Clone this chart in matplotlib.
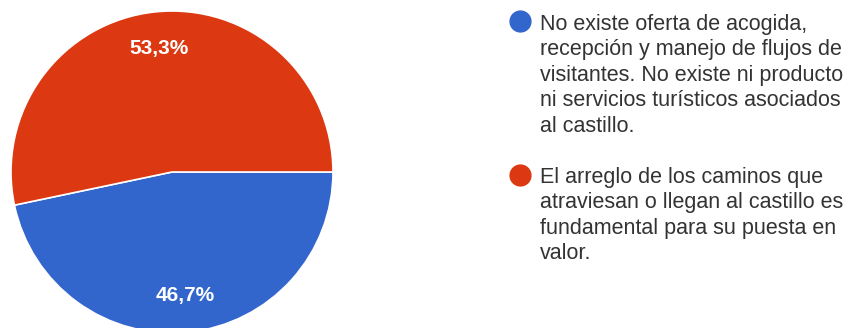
import matplotlib.pyplot as plt

plt.rcParams['font.family'] = ['Liberation Sans', 'DejaVu Sans']

# Survey answers and their share of responses
labels = [
    "No existe oferta de acogida,\nrecepción y manejo de flujos de\nvisitantes. No existe ni producto\nni servicios turísticos asociados\nal castillo.",
    "El arreglo de los caminos que\natraviesan o llegan al castillo es\nfundamental para su puesta en\nvalor.",
]
shares = [46.7, 53.3]
colors = ['#3366cc', '#dc3912']

fig = plt.figure(figsize=(8.5, 3.28), dpi=100)

# pie axes: centre at (172, 172) px from top-left, radius 161 px
W, H = 850, 328
r = 161
cx, cy = 172, H - 172
ax = fig.add_axes([(cx - r) / W, (cy - r) / H, 2 * r / W, 2 * r / H])
wedges, texts, autotexts = ax.pie(
    shares, colors=colors, startangle=0, counterclock=False, radius=1,
    autopct=lambda p: f"{p:.1f}%".replace('.', ','), pctdistance=0.77,
    wedgeprops=dict(edgecolor='white', linewidth=1.2),
    textprops=dict(color='white', fontsize=15, fontweight='bold'))
ax.set_xlim(-1, 1)
ax.set_ylim(-1, 1)
ax.set_aspect('equal')
ax.axis('off')

# legend: coloured dot plus wrapped label (text tops / dot centres in px from top)
text_tops = [14, 167]
dot_y = [21, 175]
for lab, col, ty, dy in zip(labels, colors, text_tops, dot_y):
    fig.text(540 / W, (H - ty) / H, lab, fontsize=15.5, color='#333333',
             va='top', ha='left', linespacing=1.28)
    fig.add_artist(plt.Line2D([520 / W], [(H - dy) / H], marker='o',
                              markersize=15, color=col, linestyle='none',
                              transform=fig.transFigure))

fig.savefig('out.png', dpi=100, facecolor='white')
